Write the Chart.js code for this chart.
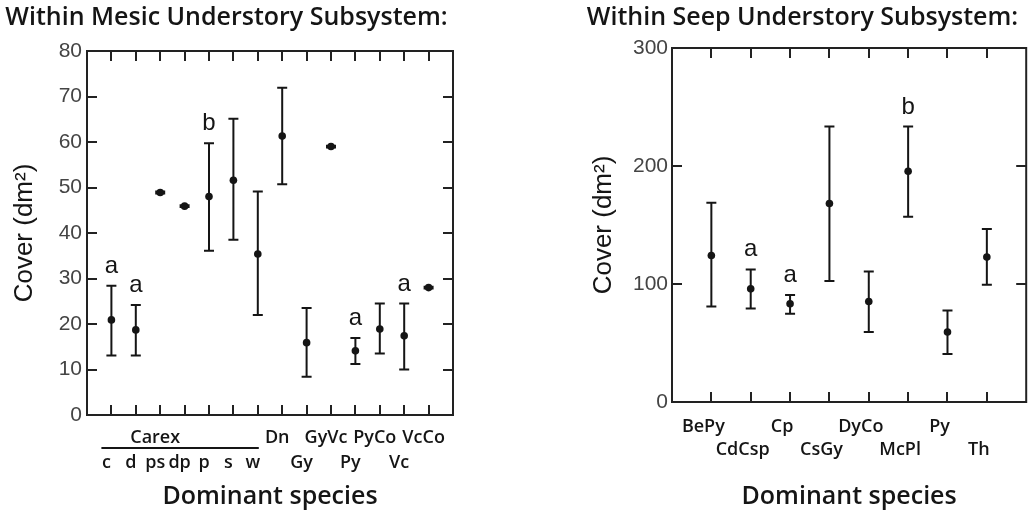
<!DOCTYPE html>
<html><head><meta charset="utf-8">
<script src="https://cdn.jsdelivr.net/npm/chart.js@4.4.1/dist/chart.umd.min.js"></script>
<style>
html,body{margin:0;padding:0;background:#fff;width:1030px;height:518px;overflow:hidden;}
.panel{position:absolute;top:0;height:518px;}
#p1{left:0;width:472px;}
#p2{left:576px;width:454px;}
</style></head><body>
<div class="panel" id="p1"><canvas id="c1"></canvas></div>
<div class="panel" id="p2"><canvas id="c2"></canvas></div>
<script>
// ---- Mesic understory subsystem ----
const mesicSpecies = ['c','d','ps','dp','p','s','w','Dn','Gy','GyVc','Py','PyCo','Vc','VcCo'];
const mesicRow     = [2,2,2,2,2,2,2,1,2,1,2,1,2,1];
const mesicMean    = [20.9,18.7,48.9,45.9,48.0,51.6,35.4,61.3,15.9,59.0,14.1,18.9,17.4,28.0];
const mesicLow     = [13.1,13.1,48.7,45.7,36.1,38.5,22.0,50.7,8.4,58.8,11.2,13.5,10.0,27.8];
const mesicHigh    = [28.4,24.2,49.1,46.1,59.7,65.1,49.1,71.9,23.5,59.2,16.9,24.5,24.5,28.2];
const mesicLetters = ['a','a','','','b','','','','','','a','','a',''];
const mesicGroup   = {name:'Carex', members:['c','d','ps','dp','p','s','w']};
const mesicYTicks  = [0,10,20,30,40,50,60,70,80];

// ---- Seep understory subsystem ----
const seepSpecies = ['BePy','CdCsp','Cp','CsGy','DyCo','McPl','Py','Th'];
const seepRow     = [1,2,1,2,1,2,1,2];
const seepMean    = [124.1,95.9,83.2,168.2,85.2,195.6,59.3,122.8];
const seepLow     = [80.9,79.3,74.8,102.5,59.3,156.9,40.6,99.3];
const seepHigh    = [168.8,112.3,90.6,233.4,110.6,233.4,77.6,146.7];
const seepLetters = ['','a','a','','','b','',''];
const seepYTicks  = [0,100,200,300];

const INK = '#151515';

const framePlugin = {
  id: 'frame',
  afterDraw(chart, args, o) {
    const {ctx, chartArea: a, scales: {x, y}} = chart;
    ctx.save();
    ctx.strokeStyle = '#222';
    ctx.lineWidth = 2;
    ctx.strokeRect(a.left, a.top, a.right - a.left, a.bottom - a.top);
    ctx.beginPath();
    const L = 10;
    x.ticks.forEach(t => {
      const px = Math.round(x.getPixelForValue(t.value));
      ctx.moveTo(px, a.bottom); ctx.lineTo(px, a.bottom - L);
      ctx.moveTo(px, a.top); ctx.lineTo(px, a.top + L);
    });
    y.ticks.forEach(t => {
      const py = Math.round(y.getPixelForValue(t.value));
      ctx.moveTo(a.left, py); ctx.lineTo(a.left + L, py);
      ctx.moveTo(a.right, py); ctx.lineTo(a.right - L, py);
    });
    ctx.stroke();
    if (o.group) {
      const idx = o.group.members.map(m => o.species.indexOf(m));
      const x1 = x.getPixelForValue(Math.min(...idx) + 1) - 10;
      const x2 = x.getPixelForValue(Math.max(...idx) + 1) + 1;
      const yy = a.bottom + o.groupLineOffset;
      ctx.beginPath();
      ctx.lineWidth = 2.2;
      ctx.strokeStyle = INK;
      ctx.moveTo(x1, yy); ctx.lineTo(x2, yy);
      ctx.stroke();
    }
    ctx.restore();
  }
};

const errPlugin = {
  id: 'errbars',
  beforeDatasetsDraw(chart, args, o) {
    const {ctx, scales: {x, y}} = chart;
    ctx.save();
    ctx.strokeStyle = INK;
    ctx.lineWidth = 2;
    ctx.beginPath();
    o.low.forEach((lo, i) => {
      const px = x.getPixelForValue(i + 1);
      const y1 = y.getPixelForValue(lo), y2 = y.getPixelForValue(o.high[i]);
      ctx.moveTo(px, y1); ctx.lineTo(px, y2);
      ctx.moveTo(px - 5, y1); ctx.lineTo(px + 5, y1);
      ctx.moveTo(px - 5, y2); ctx.lineTo(px + 5, y2);
    });
    ctx.stroke();
    ctx.fillStyle = INK;
    ctx.font = '24px "Liberation Sans", Arial, sans-serif';
    ctx.textAlign = 'center';
    ctx.textBaseline = 'alphabetic';
    o.letters.forEach((l, i) => {
      if (!l) return;
      const px = x.getPixelForValue(i + 1);
      const py = y.getPixelForValue(o.high[i]) - 13;
      ctx.fillText(l, px, py);
    });
    ctx.restore();
  }
};

function build(canvasId, cfg) {
  const n = cfg.species.length;
  const groupLabelAt = cfg.group ? cfg.species.indexOf(cfg.group.members[2]) : -1;
  return new Chart(document.getElementById(canvasId), {
    type: 'scatter',
    data: {
      datasets: [{
        data: cfg.mean.map((v, i) => ({x: i + 1, y: v})),
        pointRadius: 3.8,
        pointHoverRadius: 3.8,
        backgroundColor: INK,
        borderWidth: 0
      }]
    },
    options: {
      responsive: true,
      maintainAspectRatio: false,
      animation: false,
      devicePixelRatio: 1,
      layout: {padding: {left: 0, right: cfg.padRight, top: 0, bottom: 0}},
      plugins: {
        legend: {display: false},
        tooltip: {enabled: false},
        title: {
          display: true,
          text: cfg.title,
          color: INK,
          font: {family: '"Open Sans", sans-serif', size: 25, weight: '600', lineHeight: 1.2},
          padding: {top: 3, bottom: cfg.titleGap}
        },
        frame: {group: cfg.group, species: cfg.species, groupLineOffset: 33},
        errbars: {low: cfg.low, high: cfg.high, letters: cfg.letters}
      },
      scales: {
        x: {
          type: 'linear',
          min: 0, max: n + 1,
          grid: {display: false, drawTicks: false},
          border: {display: false},
          afterBuildTicks: s => { s.ticks = cfg.species.map((_, i) => ({value: i + 1})); },
          afterFit: s => { s.height = cfg.xHeight; },
          ticks: {
            autoSkip: false,
            maxRotation: 0, minRotation: 0,
            padding: cfg.xPad,
            labelOffset: cfg.labelOffset,
            color: INK,
            font: {family: '"Open Sans", sans-serif', size: 18, weight: '600', lineHeight: cfg.xLine},
            callback: (v) => {
              const i = Math.round(v) - 1;
              if (i < 0 || i >= n) return '';
              const top = (i === groupLabelAt) ? cfg.group.name : '';
              return cfg.row[i] === 1 ? [cfg.species[i]] : [top, cfg.species[i]];
            }
          },
          title: {
            display: true,
            text: 'Dominant species',
            color: INK,
            font: {family: '"Open Sans", sans-serif', size: 25, weight: '600', lineHeight: 1.2},
            padding: {top: 0, bottom: 6}
          }
        },
        y: {
          min: 0, max: cfg.yMax,
          grid: {display: false, drawTicks: false},
          border: {display: false},
          afterBuildTicks: s => { s.ticks = cfg.yTicks.map(v => ({value: v})); },
          afterFit: s => { s.width = cfg.yWidth; },
          ticks: {
            padding: cfg.yPad,
            color: '#444',
            font: {family: '"Liberation Sans", Arial, sans-serif', size: 21}
          },
          title: {
            display: true,
            text: 'Cover (dm²)',
            color: INK,
            font: {family: '"Liberation Sans", Arial, sans-serif', size: 26, lineHeight: 1.2},
            padding: {top: cfg.yTitlePad, bottom: 0}
          }
        }
      }
    },
    plugins: [framePlugin, errPlugin]
  });
}

build('c1', {
  title: 'Within Mesic Understory Subsystem:',
  species: mesicSpecies, row: mesicRow, mean: mesicMean, low: mesicLow, high: mesicHigh,
  letters: mesicLetters, group: mesicGroup, yTicks: mesicYTicks, yMax: 80,
  padRight: 19, titleGap: 18, xHeight: 103, xPad: 10.5, xLine: 25/18, labelOffset: -5,
  yWidth: 87, yPad: 5, yTitlePad: 9.4
});
build('c2', {
  title: 'Within Seep Understory Subsystem:',
  species: seepSpecies, row: seepRow, mean: seepMean, low: seepLow, high: seepHigh,
  letters: seepLetters, group: null, yTicks: seepYTicks, yMax: 300,
  padRight: 1, titleGap: 15, xHeight: 116, xPad: 13.5, xLine: 23/18, labelOffset: -8,
  yWidth: 96, yPad: 4, yTitlePad: 12.4
});
</script>
</body></html>
